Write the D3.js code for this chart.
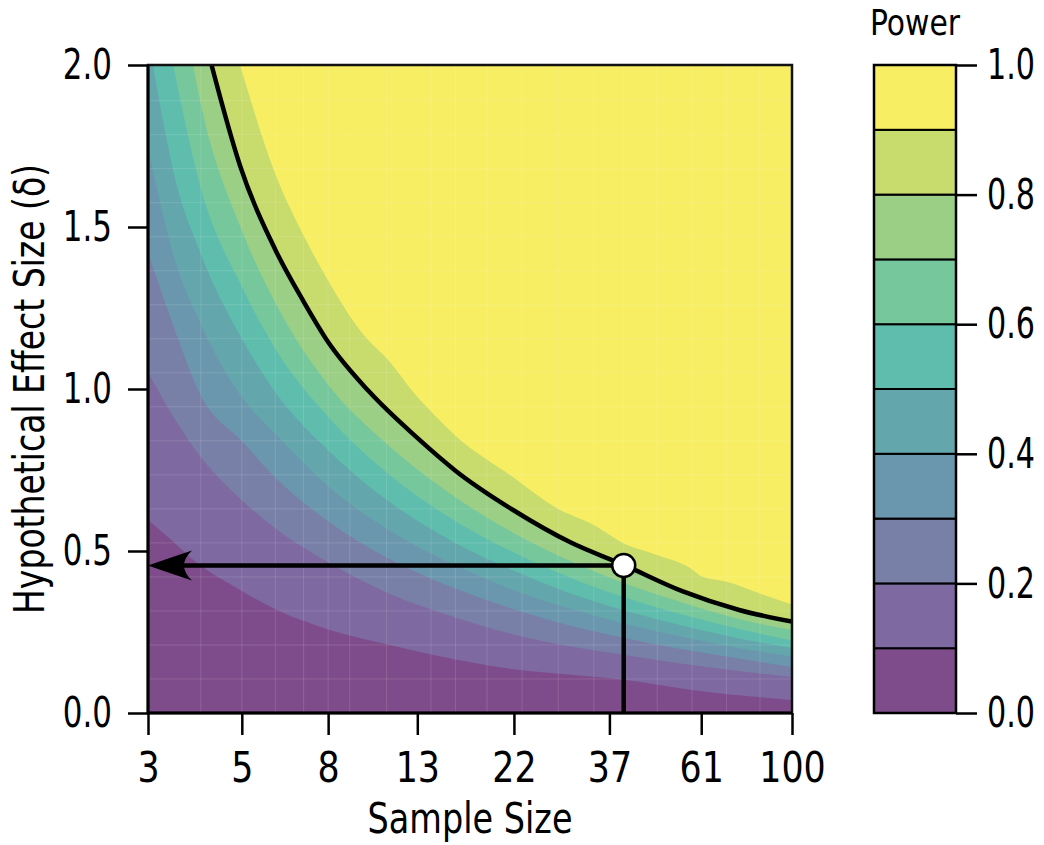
<!DOCTYPE html>
<html>
<head>
<meta charset="utf-8">
<script src="https://cdn.jsdelivr.net/npm/d3@7"></script>
<style>
  body { margin: 0; background: #fff; }
  text { font-family: "DejaVu Sans Condensed", "DejaVu Sans", sans-serif; font-stretch: condensed; fill: #000; }
</style>
</head>
<body>
<div id="chart"></div>
<script>
// axis ticks
var sampleTicks = [3, 5, 8, 13, 22, 37, 61, 100];
var effectTicks = [0, 0.5, 1.0, 1.5, 2.0];
var powerTicks = [0, 0.2, 0.4, 0.6, 0.8, 1.0];

// colour bands 0.0-0.1 ... 0.9-1.0
var powerLevels = [0, 0.1, 0.2, 0.3, 0.4, 0.5, 0.6, 0.7, 0.8, 0.9, 1.0];
var bandColors = ["#7e4c8a", "#7e69a0", "#7880a8", "#6b97ae", "#63a6ac",
                  "#5fbdad", "#76c79c", "#9bcf86", "#c8db6d", "#f7ee63"];

// contour lines, [sample size, effect size]
var contour01 = [[3, 0.596], [3.44, 0.529], [3.77, 0.481], [4.95, 0.38], [6, 0.32], [8, 0.258],
                 [11, 0.212], [16, 0.165], [22, 0.135], [30, 0.118], [40, 0.103], [58, 0.071], [100, 0.04]];
var contour02 = [[3, 1.052], [3.5, 0.9], [4, 0.79], [5, 0.657], [6, 0.57], [8, 0.465], [11, 0.372],
                 [16, 0.295], [22, 0.242], [30, 0.205], [40, 0.18], [55, 0.152], [75, 0.13], [100, 0.111]];
var contour03 = [[3, 1.423], [3.5, 1.17], [4, 0.98], [5, 0.84], [6, 0.727], [8, 0.592], [11, 0.48],
                 [16, 0.384], [22, 0.32], [30, 0.269], [40, 0.232], [55, 0.197], [75, 0.168], [100, 0.142]];
var contour04 = [[3, 1.744], [3.5, 1.384], [4, 1.2], [5, 0.975], [6, 0.862], [8, 0.7], [11, 0.569],
                 [16, 0.456], [22, 0.379], [30, 0.321], [40, 0.276], [55, 0.235], [75, 0.2], [100, 0.175]];
var contour05 = [[3.08, 2.0], [3.5, 1.635], [4, 1.416], [5, 1.155], [6, 0.99], [8, 0.811], [11, 0.658],
                 [16, 0.525], [22, 0.439], [30, 0.369], [40, 0.317], [55, 0.27], [75, 0.23], [100, 0.201]];
var contour06 = [[3.44, 2.0], [4, 1.62], [5, 1.316], [6, 1.124], [8, 0.914], [11, 0.742], [16, 0.592],
                 [22, 0.495], [30, 0.417], [40, 0.358], [55, 0.304], [75, 0.259], [100, 0.224]];
var contour07 = [[3.83, 2.0], [4, 1.88], [5, 1.49], [6, 1.266], [8, 1.013], [11, 0.831], [16, 0.666],
                 [22, 0.555], [30, 0.468], [40, 0.401], [55, 0.341], [75, 0.29], [100, 0.256]];
var powerLine = [[4.24, 2.0], [4.95, 1.69], [6, 1.43], [7, 1.27], [8, 1.145], [10, 0.992], [13, 0.849],
                 [16, 0.748], [22, 0.625], [30, 0.526], [40, 0.457], [55, 0.376], [75, 0.318], [100, 0.282]];
var contour09 = [[4.95, 2.0], [5.23, 1.897], [5.93, 1.681], [6.99, 1.475], [7.94, 1.342], [9.87, 1.156],
                 [11, 1.095], [12.9, 0.981], [13.9, 0.935], [16.1, 0.853], [21.5, 0.735], [27.8, 0.632],
                 [34, 0.58], [39.9, 0.524], [47.9, 0.488], [58, 0.444], [61.2, 0.421], [70.1, 0.405],
                 [84, 0.369], [100, 0.335]];

// faint grid seams of the contour fill
var seamN = [4, 5, 6, 7, 8, 9, 11, 14, 16, 19, 23, 28, 34, 40, 48, 58, 70, 84];
var seamDelta = [0.105, 0.21, 0.315, 0.42, 0.525, 0.63, 0.735, 0.84, 0.945, 1.05,
                 1.155, 1.26, 1.365, 1.47, 1.575, 1.68, 1.785, 1.89];

// design point (n, delta) at power .8
var target = [40, 0.455];

var contours = [contour01, contour02, contour03, contour04, contour05, contour06, contour07, powerLine, contour09];

var width = 1044;
var height = 845;
var plotLeft = 148, plotTop = 65, plotRight = 792, plotBottom = 713;
var fontSize = 43;

// the original face is narrower than DejaVu Condensed: squeeze tick labels sideways
function narrow(sel, factor) {
    sel.each(function() {
        var t = d3.select(this);
        var x = +t.attr("x") || 0;
        t.attr("x", 0)
            .attr("transform", "translate(" + x + ",0) scale(" + factor + ",1)");
    });
}

var svg = d3.select("#chart")
    .append("svg")
    .attr("width", width)
    .attr("height", height)
    .attr("viewBox", "0 0 " + width + " " + height);

var xScale = d3.scaleLog().domain([3, 100]).range([plotLeft, plotRight]);
var yScale = d3.scaleLinear().domain([0, 2]).range([plotBottom, plotTop]);

svg.append("clipPath")
    .attr("id", "plot-clip")
    .append("rect")
    .attr("x", plotLeft).attr("y", plotTop)
    .attr("width", plotRight - plotLeft).attr("height", plotBottom - plotTop);

var plot = svg.append("g").attr("clip-path", "url(#plot-clip)");

var line = d3.line()
    .x((d) => xScale(d[0]))
    .y((d) => yScale(d[1]))
    .curve(d3.curveMonotoneX);

// lowest band fills the whole plot, each next band covers the region above its contour
plot.append("rect")
    .attr("x", plotLeft).attr("y", plotTop)
    .attr("width", plotRight - plotLeft).attr("height", plotBottom - plotTop)
    .attr("fill", bandColors[0]);

plot.selectAll("path.band")
    .data(contours)
    .enter()
    .append("path")
    .attr("class", "band")
    .attr("fill", (d, i) => bandColors[i + 1])
    .attr("d", function(d) {
        return line(d) +
            "L" + xScale(100) + "," + yScale(2) +
            "L" + xScale(d[0][0]) + "," + yScale(2) + "Z";
    });

plot.selectAll("line.seam-x")
    .data(seamN)
    .enter()
    .append("line")
    .attr("x1", (d) => xScale(d)).attr("x2", (d) => xScale(d))
    .attr("y1", plotTop).attr("y2", plotBottom)
    .attr("stroke", "#fff").attr("stroke-opacity", 0.13).attr("stroke-width", 1);

plot.selectAll("line.seam-y")
    .data(seamDelta)
    .enter()
    .append("line")
    .attr("y1", (d) => yScale(d)).attr("y2", (d) => yScale(d))
    .attr("x1", plotLeft).attr("x2", plotRight)
    .attr("stroke", "#fff").attr("stroke-opacity", 0.13).attr("stroke-width", 1);

// power = .8 line
plot.append("path")
    .attr("d", line(powerLine))
    .attr("fill", "none")
    .attr("stroke", "#000")
    .attr("stroke-width", 4.5);

// guide lines from the design point
var tx = xScale(target[0]);
var ty = yScale(target[1]);
var ax = xScale(3);

plot.append("line")
    .attr("x1", tx).attr("y1", ty)
    .attr("x2", ax + 30).attr("y2", ty)
    .attr("stroke", "#000").attr("stroke-width", 4.5);

plot.append("line")
    .attr("x1", tx).attr("y1", ty)
    .attr("x2", tx).attr("y2", yScale(0))
    .attr("stroke", "#000").attr("stroke-width", 4.5);

plot.append("path")
    .attr("d", "M" + ax + "," + ty +
        "Q" + (ax + 20) + "," + (ty - 7) + " " + (ax + 44) + "," + (ty - 15) +
        "Q" + (ax + 28) + "," + ty + " " + (ax + 44) + "," + (ty + 15) +
        "Q" + (ax + 20) + "," + (ty + 7) + " " + ax + "," + ty + "Z")
    .attr("fill", "#000");

svg.append("circle")
    .attr("cx", tx).attr("cy", ty)
    .attr("r", 11.5)
    .attr("fill", "#fff")
    .attr("stroke", "#000")
    .attr("stroke-width", 2.5);

// frame
svg.append("rect")
    .attr("x", plotLeft).attr("y", plotTop)
    .attr("width", plotRight - plotLeft).attr("height", plotBottom - plotTop)
    .attr("fill", "none")
    .attr("stroke", "#111")
    .attr("stroke-width", 2.5);

// axes
var xAxis = d3.axisBottom(xScale)
    .tickValues(sampleTicks)
    .tickFormat(d3.format("d"))
    .tickSize(22)
    .tickPadding(16);

var yAxis = d3.axisLeft(yScale)
    .tickValues(effectTicks)
    .tickFormat(d3.format(".1f"))
    .tickSize(20)
    .tickPadding(16);

var gx = svg.append("g")
    .attr("transform", "translate(0," + plotBottom + ")")
    .call(xAxis);

var gy = svg.append("g")
    .attr("transform", "translate(" + plotLeft + ",0)")
    .call(yAxis);

[gx, gy].forEach(function(g) {
    g.attr("font-size", fontSize).attr("font-family", null);
    g.select(".domain").attr("stroke-width", 3).attr("stroke", "#000");
    g.selectAll(".tick line").attr("stroke-width", 2.5).attr("stroke", "#000");
});
narrow(gx.selectAll(".tick text"), 0.9);
narrow(gy.selectAll(".tick text"), 0.8);
gx.select(".domain").attr("d", "M" + plotLeft + ",0H" + plotRight);
gy.select(".domain").attr("d", "M0," + plotTop + "V" + plotBottom);

svg.append("text")
    .attr("x", (plotLeft + plotRight) / 2)
    .attr("y", 833)
    .attr("text-anchor", "middle")
    .attr("font-size", fontSize)
    .attr("textLength", 205)
    .attr("lengthAdjust", "spacingAndGlyphs")
    .text("Sample Size");

svg.append("text")
    .attr("transform", "translate(44," + ((plotTop + plotBottom) / 2) + ") rotate(-90)")
    .attr("text-anchor", "middle")
    .attr("font-size", fontSize)
    .attr("textLength", 450)
    .attr("lengthAdjust", "spacingAndGlyphs")
    .text("Hypothetical Effect Size (\u03b4)");

// colour bar
var barLeft = 874, barRight = 956;
var pScale = d3.scaleLinear().domain([0, 1]).range([plotBottom, plotTop]);

var bar = svg.append("g");

bar.selectAll("rect")
    .data(bandColors)
    .enter()
    .append("rect")
    .attr("x", barLeft)
    .attr("y", (d, i) => pScale(powerLevels[i + 1]))
    .attr("width", barRight - barLeft)
    .attr("height", (d, i) => pScale(powerLevels[i]) - pScale(powerLevels[i + 1]))
    .attr("fill", (d) => d)
    .attr("stroke", "#000")
    .attr("stroke-width", 2);

bar.append("rect")
    .attr("x", barLeft).attr("y", plotTop)
    .attr("width", barRight - barLeft).attr("height", plotBottom - plotTop)
    .attr("fill", "none")
    .attr("stroke", "#000")
    .attr("stroke-width", 2.5);

var pAxis = d3.axisRight(pScale)
    .tickValues(powerTicks)
    .tickFormat(d3.format(".1f"))
    .tickSize(21)
    .tickPadding(10);

var gp = svg.append("g")
    .attr("transform", "translate(" + barRight + ",0)")
    .call(pAxis);

gp.attr("font-size", fontSize).attr("font-family", null);
gp.select(".domain").remove();
gp.selectAll(".tick line").attr("stroke-width", 2.5).attr("stroke", "#000");
narrow(gp.selectAll(".tick text"), 0.78);

svg.append("text")
    .attr("x", (barLeft + barRight) / 2)
    .attr("y", 35)
    .attr("text-anchor", "middle")
    .attr("font-size", 36)
    .attr("textLength", 90)
    .attr("lengthAdjust", "spacingAndGlyphs")
    .text("Power");
</script>
</body>
</html>
